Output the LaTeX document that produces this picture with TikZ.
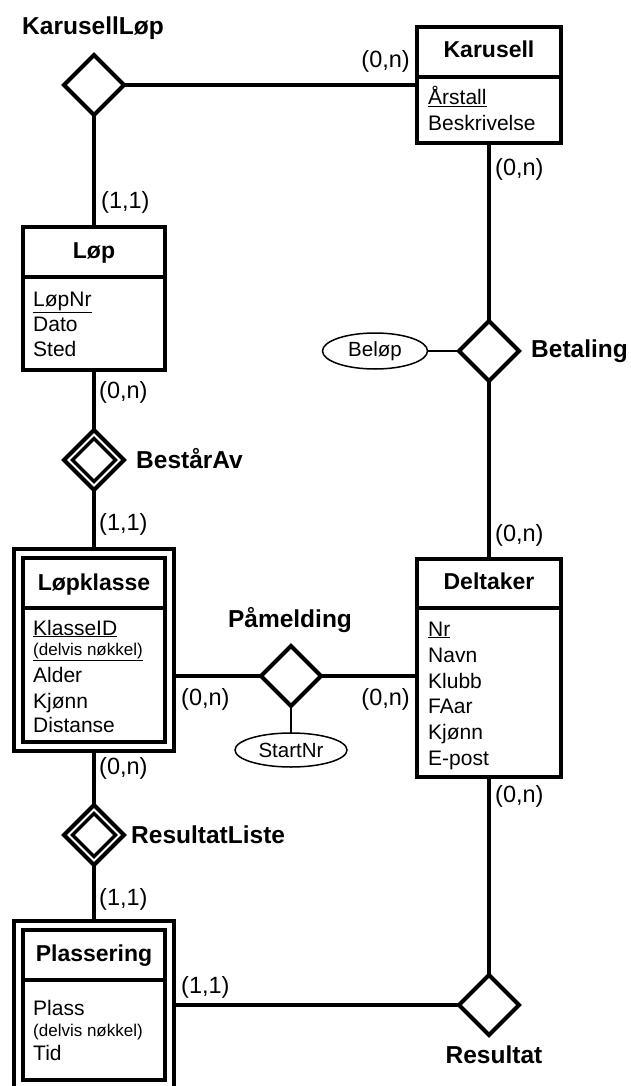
\documentclass[tikz,border=0pt]{standalone}
\usepackage{fontspec}
\setmainfont{Liberation Sans}
\usetikzlibrary{shapes.geometric}
\begin{document}
\begin{tikzpicture}[x=1pt,y=-1pt,
  thickline/.style={line width=4pt},
  thinline/.style={line width=1.5pt},
  box/.style={draw, line width=4pt, rectangle, inner sep=0pt, outer sep=0pt, fill=white},
  rel/.style={draw, line width=4pt, diamond, aspect=1, minimum width=60pt, minimum height=60pt, inner sep=0pt, outer sep=0pt, fill=white},
  relin/.style={draw, line width=3.5pt, diamond, aspect=1, minimum width=43pt, minimum height=43pt, inner sep=0pt, outer sep=0pt},
  attrell/.style={draw, line width=1.5pt, ellipse, inner sep=0pt, outer sep=0pt, fill=white, font=\fontsize{20.5}{24}\selectfont},
  hdr/.style={anchor=base, inner sep=0pt, font=\fontsize{23}{27}\selectfont\bfseries},
  attr/.style={anchor=base west, inner sep=0pt, font=\fontsize{21}{25}\selectfont},
  small/.style={anchor=base west, inner sep=0pt, font=\fontsize{17}{20}\selectfont},
  card/.style={inner sep=0pt, font=\fontsize{23.5}{27}\selectfont},
  rlabel/.style={inner sep=0pt, font=\fontsize{24.5}{28}\selectfont\bfseries}
]
\useasboundingbox (0,0) rectangle (630,1086);
\clip (0,0) rectangle (630,1086);

% entities
\node[box, minimum width=144pt, minimum height=116pt] (karusell) at (489,85) {};
\node[box, minimum width=142pt, minimum height=143pt] (lop) at (94,298.5) {};
\node[box, minimum width=160pt, minimum height=202pt] (lkout) at (94,650) {};
\node[box, minimum width=142pt, minimum height=184pt] (lkin) at (94,650) {};
\node[box, minimum width=144pt, minimum height=218pt] (deltaker) at (489,668) {};
\node[box, minimum width=160pt, minimum height=179pt] (plout) at (94,1010.5) {};
\node[box, minimum width=142pt, minimum height=150pt] (plin) at (94,1005) {};

% relationships
\node[rel] (karlop) at (94,85) {};
\node[rel] (betaling) at (489,351) {};
\node[rel] (bestaar) at (94,460) {};
\node[relin] (bestaarin) at (94,460) {};
\node[rel] (pamelding) at (291,676) {};
\node[rel] (resliste) at (94,835) {};
\node[relin] (reslistein) at (94,835) {};
\node[rel] (resultat) at (489,1005) {};

% attribute ellipses
\node[attrell, minimum width=105pt, minimum height=36pt] (belop) at (375,351) {Beløp};
\node[attrell, minimum width=112pt, minimum height=34pt] (startnr) at (291,750) {StartNr};

% connectors
\draw[thickline] (karlop) -- (karusell);
\draw[thickline] (karlop) -- (lop);
\draw[thickline] (karusell) -- (betaling);
\draw[thickline] (betaling) -- (deltaker);
\draw[thickline] (lop) -- (bestaar);
\draw[thickline] (bestaar) -- (lkout);
\draw[thickline] (lkout) -- (resliste);
\draw[thickline] (resliste) -- (plout);
\draw[thickline] (deltaker) -- (resultat);
\draw[thickline] (pamelding.west) -- (pamelding.west -| lkout.east);
\draw[thickline] (pamelding.east) -- (pamelding.east -| deltaker.west);
\draw[thickline] (resultat.west) -- (resultat.west -| plout.east);
\draw[thinline] (belop) -- (betaling);
\draw[thinline] (pamelding) -- (startnr);

% dividers
\draw[thickline] (karusell.west |- 0,77) -- (karusell.east |- 0,77);
\draw[thickline] (lop.west |- 0,277) -- (lop.east |- 0,277);
\draw[thickline] (lkin.west |- 0,608) -- (lkin.east |- 0,608);
\draw[thickline] (deltaker.west |- 0,608) -- (deltaker.east |- 0,608);
\draw[thickline] (plin.west |- 0,980) -- (plin.east |- 0,980);

% headers
\node[hdr] (hkarusell) at (489,58) {Karusell};
\node[hdr] (hlop) at (94,258) {Løp};
\node[hdr] (hlk) at (94,590) {Løpklasse};
\node[hdr] (hdel) at (489,589) {Deltaker};
\node[hdr] (hpl) at (94,961) {Plassering};

% attributes
\node[attr] (a1) at (428,105) {\underline{Årstall}};
\node[attr] (a2) at (428,131) {Beskrivelse};
\node[attr] (b1) at (33,306) {\underline{LøpNr}};
\node[attr] (b2) at (33,331) {Dato};
\node[attr] (b3) at (33,356) {Sted};
\node[attr] (c1) at (33,635) {\underline{KlasseID}};
\node[small] (c2) at (33,655) {\underline{(delvis nøkkel)}};
\node[attr] (c3) at (33,682) {Alder};
\node[attr] (c4) at (33,708) {Kjønn};
\node[attr] (c5) at (33,732) {Distanse};
\node[attr] (d1) at (428,636) {\underline{Nr}};
\node[attr] (d2) at (428,662) {Navn};
\node[attr] (d3) at (428,688) {Klubb};
\node[attr] (d4) at (428,713) {FAar};
\node[attr] (d5) at (428,739) {Kjønn};
\node[attr] (d6) at (428,765) {E-post};
\node[attr] (e1) at (33,1015) {Plass};
\node[small] (e2) at (33,1036) {(delvis nøkkel)};
\node[attr] (e3) at (33,1060) {Tid};

% relationship labels
\node[rlabel] (lkarlop) at (93,28) {KarusellLøp};
\node[rlabel, anchor=west] (lbetaling) at (531,351) {Betaling};
\node[rlabel, anchor=west] (lbestaar) at (136,459) {BestårAv};
\node[rlabel] (lpamelding) at (290,620) {Påmelding};
\node[rlabel, anchor=west] (lresliste) at (131,835) {ResultatListe};
\node[rlabel] (lresultat) at (494,1055) {Resultat};

% cardinalities
\node[card, anchor=east] (k1) at (410,61) {(0,n)};
\node[card, anchor=west] (k2) at (495,169) {(0,n)};
\node[card, anchor=west] (k3) at (101,202) {(1,1)};
\node[card, anchor=west] (k4) at (99,392) {(0,n)};
\node[card, anchor=west] (k5) at (99,524) {(1,1)};
\node[card, anchor=west] (k6) at (495,535) {(0,n)};
\node[card, anchor=west] (k7) at (181,699) {(0,n)};
\node[card, anchor=east] (k8) at (410,699) {(0,n)};
\node[card, anchor=west] (k9) at (99,768) {(0,n)};
\node[card, anchor=west] (k10) at (495,796) {(0,n)};
\node[card, anchor=west] (k11) at (99,899) {(1,1)};
\node[card, anchor=west] (k12) at (181,987) {(1,1)};
\end{tikzpicture}
\end{document}
